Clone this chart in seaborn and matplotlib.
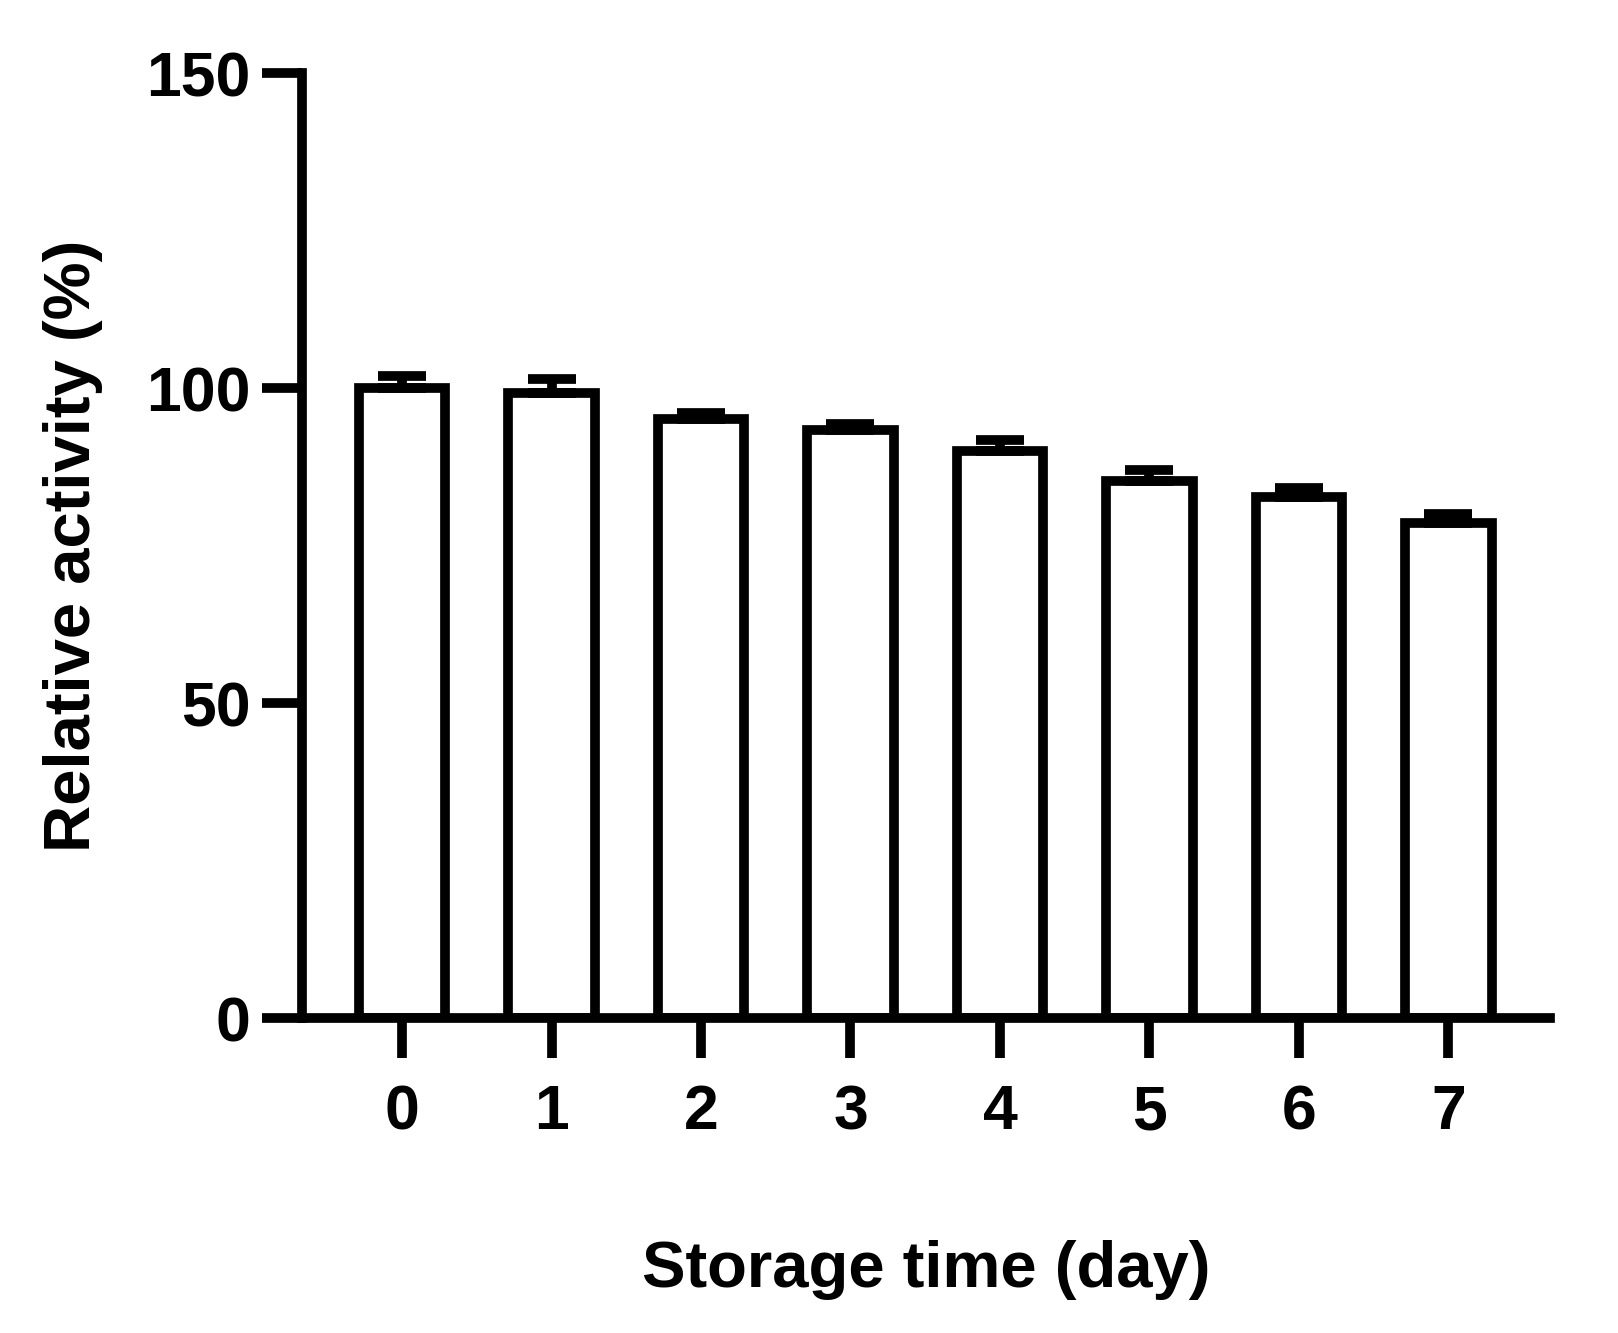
import numpy as np
import pandas as pd
import matplotlib
matplotlib.use('Agg')
import matplotlib.pyplot as plt
import seaborn as sns

days = ['0', '1', '2', '3', '4', '5', '6', '7']
activity = [100.0, 99.3, 95.1, 93.3, 90.0, 85.3, 82.8, 78.6]
sd = [2.0, 2.2, 0.9, 1.0, 1.7, 1.7, 1.4, 1.4]

sns.set_style('ticks')
plt.rcParams['font.family'] = ['Liberation Sans', 'DejaVu Sans']
plt.rcParams['font.weight'] = 'bold'
plt.rcParams['text.color'] = 'black'
plt.rcParams['axes.labelcolor'] = 'black'
plt.rcParams['axes.edgecolor'] = 'black'

df = pd.DataFrame({'day': days, 'activity': activity})

fig = plt.figure(figsize=(16.18, 13.33), dpi=100)
ax = fig.add_axes([0.1866, 0.2363, 0.958 - 0.1866, 0.945 - 0.2363])

lw = 7.0
sns.barplot(data=df, x='day', y='activity', color='white', edgecolor='black',
            linewidth=lw, width=0.58, errorbar=None, ax=ax, zorder=2)
# error bars shown upward only, as in the original figure
ax.errorbar(np.arange(len(days)), activity, yerr=[np.zeros(len(sd)), sd],
            fmt='none', ecolor='black', elinewidth=lw, capsize=17,
            capthick=lw, zorder=3)

ax.set_ylim(0, 150)
ax.set_xlim(-0.67, 7.68)
ax.set_yticks([0, 50, 100, 150])
sns.despine(ax=ax)
for s in ['left', 'bottom']:
    ax.spines[s].set_linewidth(lw)
    ax.spines[s].set_color('black')
    ax.spines[s].set_capstyle('projecting')
ax.tick_params(axis='both', width=lw, length=29, labelsize=45, colors='black')
ax.tick_params(axis='x', pad=18)
ax.tick_params(axis='y', pad=8)
for lab in ax.get_xticklabels() + ax.get_yticklabels():
    lab.set_fontweight('bold')

ax.set_xlabel('Storage time (day)', fontsize=47, fontweight='bold', labelpad=70)
ax.set_ylabel('Relative activity (%)', fontsize=47, fontweight='bold', labelpad=31)

fig.savefig('out.png', dpi=100, facecolor='white')
